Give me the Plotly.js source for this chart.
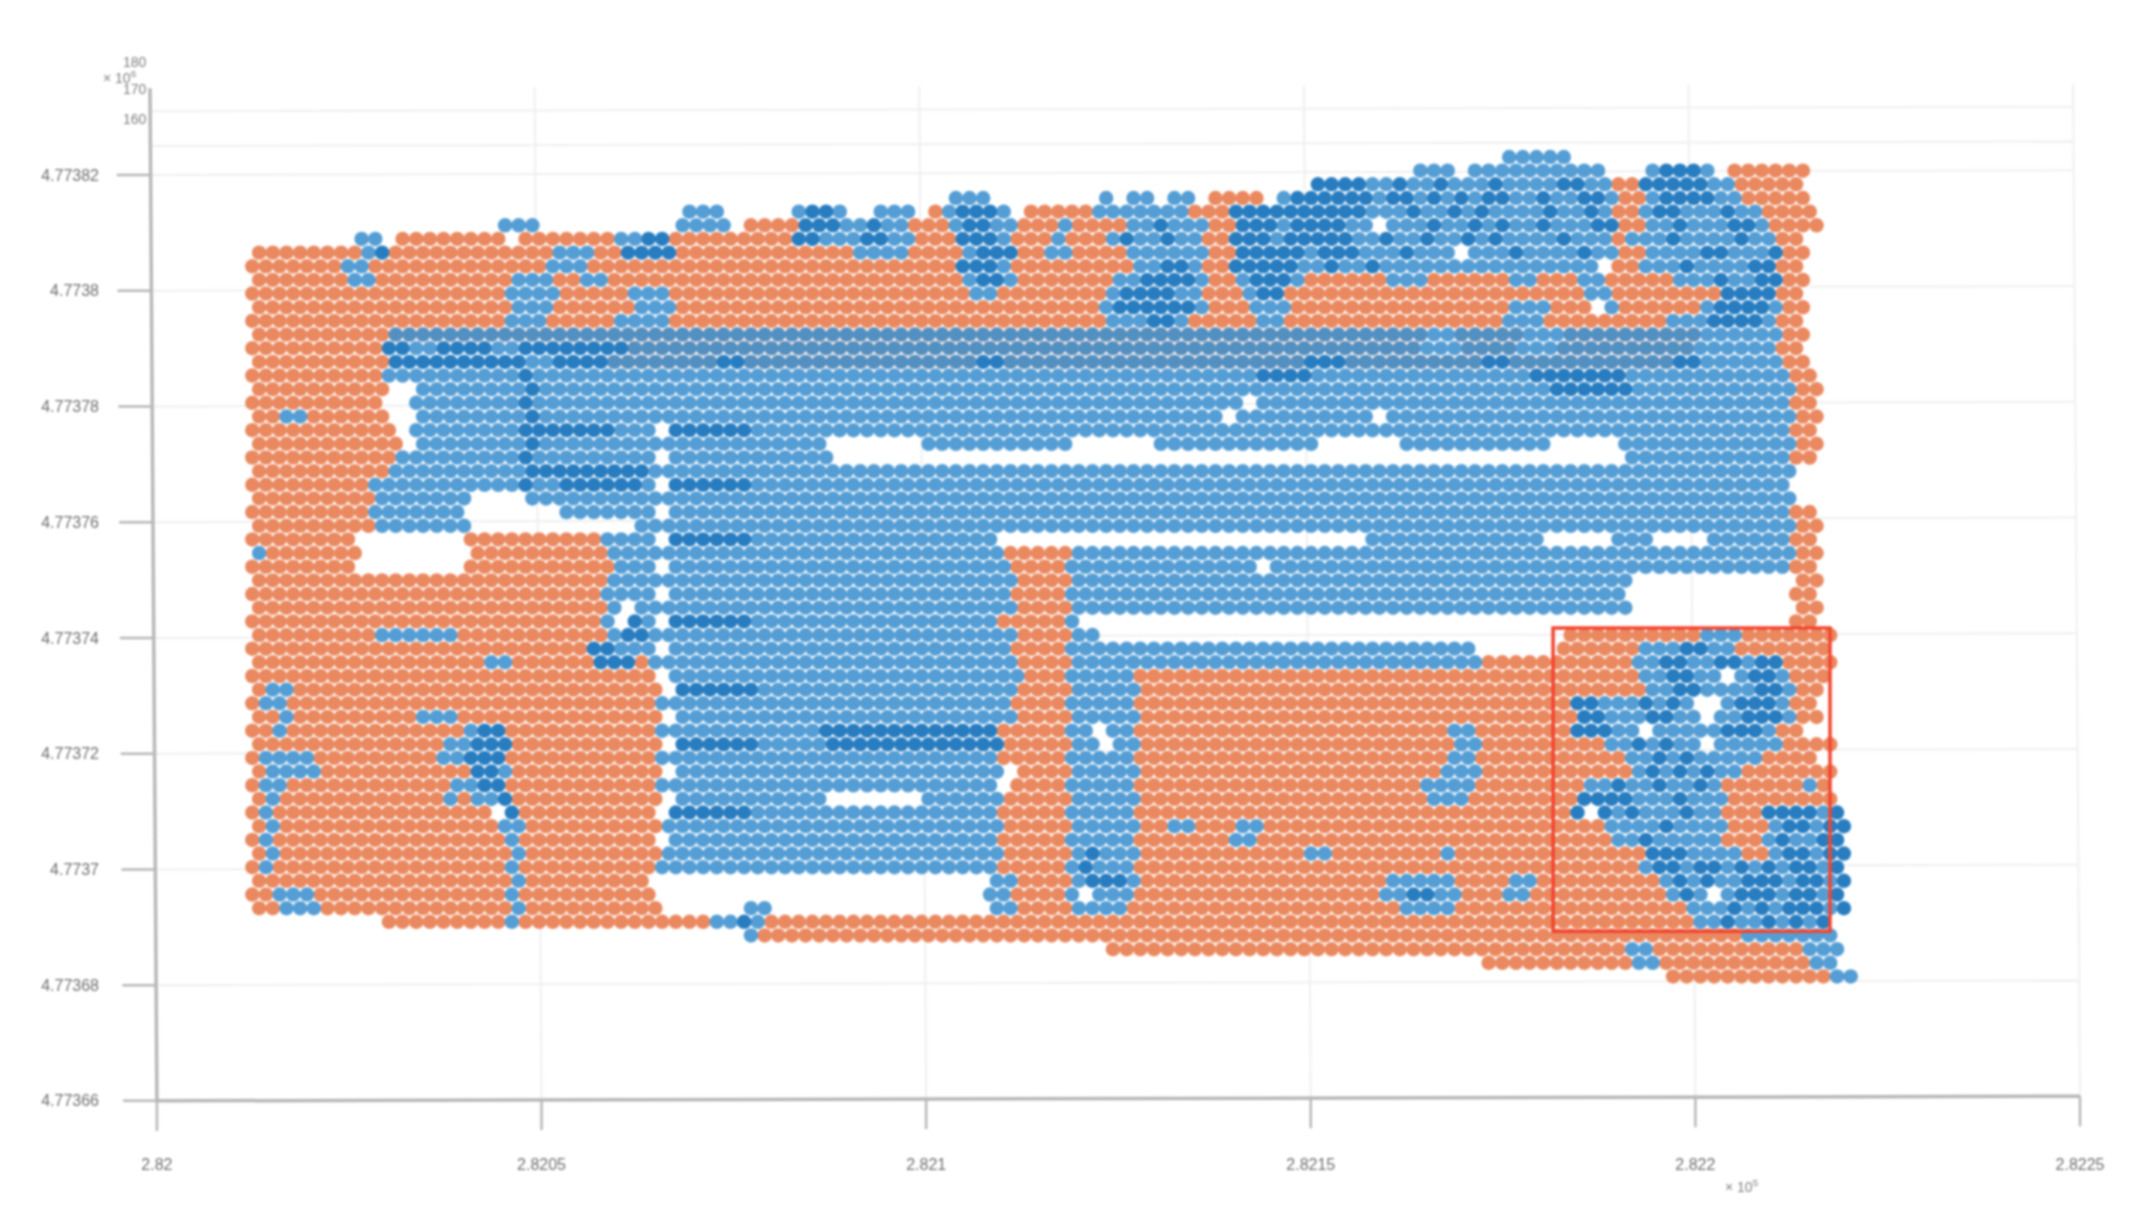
<!DOCTYPE html>
<html>
<head>
<meta charset="utf-8">
<script src="https://cdn.plot.ly/plotly-3.0.1.min.js"></script>
<style>
	html, body { margin: 0; background: #fff; }
	#plot { width: 2142px; height: 1221px; filter: blur(1.1px); }
</style>
</head>
<body>
<div id="plot"></div>
<script>
const xTicks = [282000, 282050, 282100, 282150, 282200, 282250];
const xTickLabels = ['2.82', '2.8205', '2.821', '2.8215', '2.822', '2.8225'];
const yTicks = [4773660, 4773680, 4773700, 4773720, 4773740, 4773760, 4773780, 4773800, 4773820];
const yTickLabels = ['4.77366', '4.77368', '4.7737', '4.77372', '4.77374', '4.77376', '4.77378', '4.7738', '4.77382'];
const zGridLevels = [4773825, 4773831];
const zLabels = ['180', '170', '160'];

const colStart = 282012.4;  // easting of first column
const colStep = 1.776;
const rowStart = 4773823.1; // northing of first row
const rowStep = 2.36;

// Point cloud in cells, 10 columns per group, one line per row.
// . nothing, o ground, b object, d object with overlapping points, m both
const cloudRows = [
	".......... .......... .......... .......... .......... .......... .......... .......... .......... ..bbbbb... .......... ..........",
	".......... .......... .......... .......... .......... .......... .......... .......... .....bbb.b bbbbbbbbb. ..bdddb.oo oooo......",
	".......... .......... .......... .......... .......... .......... .......... ........dd ddbbdbbdbb bdbbbbddbb oodddddbbo oooo......",
	".......... .......... .......... .......... .......... .bbb...... ..b.bb.bb. oooo.bdddd ddbddbdbdb ddbbdbbddb oobddddbbo oooo......",
	".......... .......... .......... ..bbb..... bddb..bbb. obdddb.ooo oobbbbbbbo oodddddddd ddbbbdbbdb dbbbbdbbdb oobddbbbdb boooo.....",
	".......... ........bb b......... .bbbb.oooo dddbbdbboo obddbbooob oooobbdbbb oodddbdddd bb.bbbdbbd bdbbdbbbdd oobbdbbbdd boooo.....",
	"........bb .oooooooo. ooooooobbd dooooooooo ddbbbddbbo oodddbooob ooobdbbdbb oodddbdddd dbbdbbdbbd bdbbbbdbbb obbbdbbbbd bboo......",
	"oooooooobd oooooooooo oobbbooddd dooooooooo oooobbbboo oobdddoobb oooobbbbbb oodddddbdd dbbbdbbb.b bbdbbbbdbb oobbbbddbb bdoo......",
	"ooooooobbo oooooooooo oobbbooooo oooooooooo oooooooooo oodddboooo ooooobbddb oodddddbbd bbdbbbbbbb bbbbbbbbb. oobbbdbbbb ddoo......",
	"ooooooobbo ooooooooob bboobboooo oooooooooo oooooooooo oobddboooo ooobbddddb oobdddbooo ooobbboooo oobbooobbo oooobbbdbb ddoo......",
	"oooooooooo ooooooooob bbbooooobb booooooooo oooooooooo ooobbooooo ooobddddbb ooobddoooo oooooooooo oooooooobb oooooooodd ddoo......",
	"oooooooooo ooooooooob bboooooobb booooooooo oooooooooo oooooooooo oobddddddb ooobbboooo oooooooooo oobbbooo.b oooooobddd dboo......",
	"oooooooooo ooooooooob bbooooobbb booooooooo oooooooooo oooooooooo ooobbbddbo oooobboooo oooooooooo oobbbooooo oooobbbddd dboo......",
	"oooooooooo mmmmmmmmmm mmmmmmmmmm mmmmmmmmmm mmmmmmmmmm mmmmmmmmmm mmmmmmmmmm mmmmmmmmmm mmmmmmbbmm mmmbbbmmmm mmmmmmbbbb bboo......",
	"oooooooooo ddbbddddbb ddddddddmm mmmmmmmmmm mmmmmmmmmm mmmmmmmmmm mmmmmmmmmm mmmmmmmmmm mmmmmmbbbm mmmbbbmmmm mmmmmmbbbb bboo......",
	"oooooooooo dddddddddd bbddddmmmm mmmmddmmmm mmmmmmmmmm mmmddmmmmm mmmmmmmmmm mmmmmmmddd mmmmmmmmmm ddmmmmmmmm mmmmddbbbb bboo......",
	"oooooooooo bbbbbbbbbb dbbbbbbbbb bbbbbbbbbb bbbbbbbbbb bbbbbbbbbb bbbbbbbbbb bbbbddddbb bbbbbbbbbb bbbbdddddd dbbbbbbbbb bbboo.....",
	"oooooooooo ..bbbbbbbb dbbbbbbbbb bbbbbbbbbb bbbbbbbbbb bbbbbbbbbb bbbbbbbbbb bbbbbbbbbb bbbbbbbbbb bbbbbddddd dbbbbbbbbb bbboo.....",
	"oooooooooo ..bbbbbbbb dbbbbbbbbb bbbbbbbbbb bbbbbbbbbb bbbbbbbbbb bbbbbbbbbb bbb.bbbbbb bbbbbbbbbb bbbbbbbbbb bbbbbbbbbb bbboo.....",
	"oobboooooo ..bbbbbbbb dbbbbbbbbb bbbbbbbbbb bbbbbbbbbb bbbbbbbbbb bbbbbbbbbb b.bbbbbbbb bb.bbbbbbb bbbbbbbbbb bbbbbbbbbb bbboo.....",
	"oooooooooo o.bbbbbbbb dddddddbbb .ddddddbbb bbbbbbbbbb bbbbbbbbbb bbbbbbbbbb bbbbbbbbbb bbbbbbbbbb bbbbbbbbbb bbbbbbbbbb bbboo.....",
	"oooooooooo o.bbbbbbbb dbbbbbbbbb bbbbbbbbbb bb.......b bbbbbbbbbb ......bbbb bbbbbbbb.. ....bbbbbb bbbbb..... bbbbbbbbbb bbboo.....",
	"oooooooooo obbbbbbbbb dbbbbbbbbb .bbbbbbbbb bbb....... .......... .......... .......... .......... .......... .bbbbbbbbb bbboo.....",
	"oooooooooo bbbbbbbbbb dddddddddb bbbbbbbbbb bbbbbbbbbb bbbbbbbbbb bbbbbbbbbb bbbbbbbbbb bbbbbbbbbb bbbbbbbbbb bbbbbbbbbb bbb.......",
	"ooooooooob bbbbbbbbbb dbbddddddb .ddddddbbb bbbbbbbbbb bbbbbbbbbb bbbbbbbbbb bbbbbbbbbb bbbbbbbbbb bbbbbbbbbb bbbbbbbbbb bbb.......",
	"ooooooooob bbbbbb.... bbbbbbbbbb bbbbbbbbbb bbbbbbbbbb bbbbbbbbbb bbbbbbbbbb bbbbbbbbbb bbbbbbbbbb bbbbbbbbbb bbbbbbbbbb bbb.......",
	"ooooooooob bbbbbb.... ...bbbbbbb .bbbbbbbbb bbbbbbbbbb bbbbbbbbbb bbbbbbbbbb bbbbbbbbbb bbbbbbbbbb bbbbbbbbbb bbbbbbbbbb bbboo.....",
	"ooooooooob bbbbbb.... ........bb bbbbbbbbbb bbbbbbbbbb bbbbbbbbbb bbbbbbbbbb bbbbbbbbbb bbbbbbbbbb bbbbbbbbbb bbbbbbbbbb bbboo.....",
	"oooooooo.. ......oooo oooooobbbb .ddddddbbb bbbbbbbbbb bbbbb..... .......... .......... ..bbbbbbbb bbbbb..... bbb....bbb bbboo.....",
	"booooooo.. ......oooo oooooobbbb bbbbbbbbbb bbbbbbbbbb bbbbbooooo bbbbbbbbbb bbbbbbbbbb bbbbbbbbbb bbbbbbbbbb bbbbbbbbbb bbboo.....",
	"oooooooo.. ......oooo ooooooobbb .bbbbbbbbb bbbbbbbbbb bbbbbboooo bbbbbbbbbb bbbb.bbbbb bbbbbbbbbb bbbbbbbbbb bbbbbbbbbb bbboo.....",
	"oooooooooo oooooooooo oooooobbbb bbbbbbbbbb bbbbbbbbbb bbbbbboooo bbbbbbbbbb bbbbbbbbbb bbbbbbbbbb bbbbbbbbbb b......... ...oo.....",
	"oooooooooo oooooooooo oooooobbbb .bbbbbbbbb bbbbbbbbbb bbbbbboooo bbbbbbbbbb bbbbbbbbbb bbbbbbbbbb bbbbbbbbbb b......... ...oo.....",
	"oooooooooo oooooooooo oooooob.bb bbbbbbbbbb bbbbbbbbbb bbbbbboooo bbbbbbbbbb bbbbbbbbbb bbbbbbbbbb bbbbbbbbbb b......... ...oo.....",
	"oooooooooo oooooooooo oooooob.db .ddddddbbb bbbbbbbbbb bbbbbooooo b......... .......... .......... .......... .......... ...oo.....",
	"ooooooooob bbbbbooooo oooooobddb bbbbbbbbbb bbbbbbbbbb bbbbbboooo bb........ .......... .......... ......oooo oooooobbbo oooooo....",
	"oooooooooo oooooooooo oooooddbbb .bbbbbbbbb bbbbbbbbbb bbbbbboooo bbbbbbbbbb bbbbbbbbbb bbbbbbbbbb ......oooo oobbbddbbo oooooo....",
	"oooooooooo ooooooobbo ooooodddob bbbbbbbbbb bbbbbbbbbb bbbbbboooo bbbbbbbbbb bbbbbbbbbb bbbbbbbbbb oooooooooo obbddbbddb ddoooo....",
	"oooooooooo oooooooooo oooooooooo .bbbbbbbbb bbbbbbbbbb bbbbbbbooo bbbbbooooo oooooooooo oooooooooo oooooooooo oobbddbb.b ddbooo....",
	"obbooooooo oooooooooo oooooooooo .ddddddbbb bbbbbbbbbb bbbbbboooo bbbbbooooo oooooooooo oooooooooo oooooooooo oobbddbbbb ddboo.....",
	"obbooooooo oooooooooo oooooooooo bbbbbbbbbb bbbbbbbbbb bbbbbboooo bbbbbooooo oooooooooo oooooooooo oooooooddb bbdbdb..bd ddboo.....",
	"oobooooooo oobbbooooo oooooooooo .bbbbbbbbb bbbbbbbbbb bbbbbboooo bbbbbooooo oooooooooo oooooooooo oooooooddb bbddbb.bbd ddboo.....",
	"oobooooooo oooooobddo oooooooooo bbbbbbbbbb bbdddddddd dddddooooo bb.bbooooo oooooooooo oooooooobb oooooooddd bb.bbbbbdd dboo......",
	"oooooooooo oooobbdddo oooooooooo .ddddddbbb bbdddddddd dddddooooo bb.bbooooo oooooooooo oooooooobb ooooooooob bdbdbb.bbb bboooo....",
	"obbbbooooo oooobbdddo oooooooooo bbbbbbbbbb bbbbbbbbbb bbbbbooooo bbbbbooooo oooooooooo oooooooobb oooooooooo obbdbdbbbb boooo.....",
	"obbbbooooo ooooooddbo oooooooooo .bbbbbbbbb bbbbbbbbbb bbbbb.oooo bbbbbooooo oooooooooo ooooooobbb oooooooooo obdbdbdbbo oooooo....",
	"obbooooooo ooooobbddo oooooooooo bbbbbbbbbb bbbbbbbbbb bbbbb.oooo bbbbbooooo oooooooooo oooooobbbb oooooooobb dbbdbbdboo oooobo....",
	"oboooooooo oooobobbdo oooooooooo .bbbbbbbbb bb.......b bbbbbooooo bbbbbooooo oooooooooo oooooobbbo oooooooddd dbbbdbbboo oooooo....",
	"oboooooooo oooooooo.d oooooooooo .ddddddbbb bbbbbbbbbb bbbbbooooo bbbbbooooo oooooooooo oooooooooo oooooood.d bdbbbdbboo oddddbd...",
	"oboooooooo oooooooobb oooooooooo bbbbbbbbbb bbbbbbbbbb bbbbbooooo bbbbboobbo oobboooooo oooooooooo ooooooooob bbbdbbbboo obddbdd...",
	"oboooooooo ooooooooob oooooooooo .bbbbbbbbb bbbbbbbbbb bbbbbooooo bbbbbooooo oobboooooo oooooooooo oooooooooo bbdbbbbboo obdbbdd...",
	"oboooooooo ooooooooob oooooooooo bbbbbbbbbb bbbbbbbbbb bbbbbooooo bdbbbooooo ooooooobbo oooooooboo oooooooooo oodddbbbbo obddbdd...",
	"oboooooooo ooooooooob oooooooooo bbbbbbbbbb bbbbbbbbbb bbbbbooooo bdbbbooooo oooooooooo oooooooooo oooooooooo oobddbddbd bdbddbd...",
	"oooooooooo ooooooooob ooooooooo. .......... .......... ....bboooo bdddbooooo oooooooooo ooobbbbboo oobboooooo ooobdbdbbd ddbddbd...",
	"oobbbooooo ooooooooob oooooooooo .......... .......... ....bboooo b.bbbooooo oooooooooo ooobbddbbo oobboooooo oooobdb.bd ddbddbd...",
	"oobbbooooo ooooooooob oooooooooo ......bb.. .......... ....bboooo bbbboooooo oooooooooo oooobbbboo oooooooooo ooooobbbdb dbdddbd...",
	".......... ooooooooob oooooooooo oooobbdboo oooooooooo oooooooooo oooooooooo oooooooooo oooooooooo oooooooooo oooooobbdb bdbdbd....",
	".......... .......... .......... ......booo oooooooooo oooooooooo oooooooooo oooooooooo oooooooooo oooooooooo ooooooooob bbbbbb....",
	".......... .......... .......... .......... .......... .......... ...ooooooo oooooooooo oooooooooo oooooooooo obbooooooo oooobbb...",
	".......... .......... .......... .......... .......... .......... .......... .......... .......... oooooooooo obbooooooo oooobb....",
	".......... .......... .......... .......... .......... .......... .......... .......... .......... .......... ....oooooo oooooobb..",
];

const groundX = [];
const groundY = [];
const objectX = [];
const objectY = [];
const denseX = [];
const denseY = [];

const boxX = [282181.5, 282217.5];
const boxY = [4773689.3, 4773741.7];

const axisTop = 4773835;
const leanX = -0.9; // the view is slightly rotated, lines lean as they go up
const leanY = 0.8;

function readCloud() {
	cloudRows.forEach((line, r) => {
		const cells = line.replace(/ /g, '');
		const y = rowStart - r * rowStep;
		for (let c = 0; c < cells.length; c++) {
			const x = colStart + (c + (r % 2) * 0.5) * colStep;
			const cell = cells[c];
			if (cell === 'o' || cell === 'm') {
				groundX.push(x);
				groundY.push(y);
			}
			if (cell === 'b' || cell === 'm') {
				objectX.push(x);
				objectY.push(y);
			}
			if (cell === 'd') {
				denseX.push(x);
				denseY.push(y);
			}
		}
	});
}

function makePointTrace(x, y, color) {
	return {
		x, y,
		type: 'scatter',
		mode: 'markers',
		hoverinfo: 'none',
		cliponaxis: false,
		marker: {
			size: 14.5,
			color,
			line: { width: 0 },
		},
	};
}

function makeLine(x0, y0, x1, y1, color, width, layer) {
	return {
		type: 'line', xref: 'x', yref: 'y',
		x0, y0, x1, y1,
		layer: layer || 'below',
		line: { color, width },
	};
}

function makeShapes() {
	const shapes = [];
	const base = yTicks[0];
	const left = xTicks[0];
	const right = xTicks[xTicks.length - 1];
	const grid = '#f0f0f0';
	const axis = '#b8b8b8';

	xTicks.forEach((t) => {
		const rise = leanY * (t - left) / (right - left);
		shapes.push(makeLine(t, base + rise, t + leanX, axisTop + rise, grid, 2));
		shapes.push(makeLine(t, base + rise, t, base + rise - 5.2, axis, 2.5));
	});
	yTicks.concat(zGridLevels).forEach((v) => {
		const shift = leanX * (v - base) / (axisTop - base);
		shapes.push(makeLine(left + shift, v, right + shift, v + leanY, grid, 2));
	});
	yTicks.forEach((v) => {
		const shift = leanX * (v - base) / (axisTop - base);
		shapes.push(makeLine(left + shift - 4.4, v, left + shift, v, axis, 2.5));
	});
	shapes.push(makeLine(left, base, left + leanX, axisTop, axis, 3.5));
	shapes.push(makeLine(left, base, right, base + leanY, axis, 3.5));

	shapes.push({
		type: 'rect', xref: 'x', yref: 'y',
		x0: boxX[0], x1: boxX[1], y0: boxY[0], y1: boxY[1],
		layer: 'above',
		line: { color: '#f2452e', width: 3.5 },
	});
	return shapes;
}

function makeLabel(x, y, text, font) {
	return {
		xref: 'paper', yref: 'paper',
		x, y, text,
		xanchor: 'center', yanchor: 'middle',
		showarrow: false,
		font,
	};
}

function visualize() {
	const textFont = { family: 'Liberation Sans, Arial, sans-serif', size: 16, color: '#707070' };
	const smallFont = { family: 'Liberation Sans, Arial, sans-serif', size: 14, color: '#808080' };
	const data = [
		makePointTrace(groundX, groundY, 'rgba(233,132,90,0.96)'),
		makePointTrace(objectX, objectY, 'rgba(62,145,207,0.88)'),
		makePointTrace(denseX, denseY, 'rgba(28,118,190,0.95)'),
	];
	const layout = {
		paper_bgcolor: '#fff',
		plot_bgcolor: '#fff',
		showlegend: false,
		margin: { l: 100, r: 32, t: 50, b: 86 },
		width: 2142,
		height: 1221,
		font: textFont,
		xaxis: {
			range: [281992.6, 282253.9],
			tickvals: xTicks,
			ticktext: xTickLabels,
			showgrid: false,
			zeroline: false,
			showline: false,
			ticks: 'outside',
			ticklen: 15,
			tickcolor: 'rgba(0,0,0,0)',
			tickfont: textFont,
		},
		yaxis: {
			range: [4773654.1, 4773841.6],
			tickvals: yTicks,
			ticktext: yTickLabels,
			showgrid: false,
			zeroline: false,
			showline: false,
			ticks: '',
			tickfont: textFont,
		},
		shapes: makeShapes(),
		annotations: [
			makeLabel(0.0174, 0.989, zLabels[0], smallFont),
			makeLabel(0.0174, 0.964, zLabels[1], smallFont),
			makeLabel(0.0174, 0.9366, zLabels[2], smallFont),
			makeLabel(0.01, 0.975, '× 10<sup>6</sup>', smallFont),
			makeLabel(0.817, -0.0467, '× 10<sup>5</sup>', smallFont),
		],
	};
	Plotly.newPlot('plot', data, layout, { staticPlot: true });
}

readCloud();
visualize();
</script>
</body>
</html>
